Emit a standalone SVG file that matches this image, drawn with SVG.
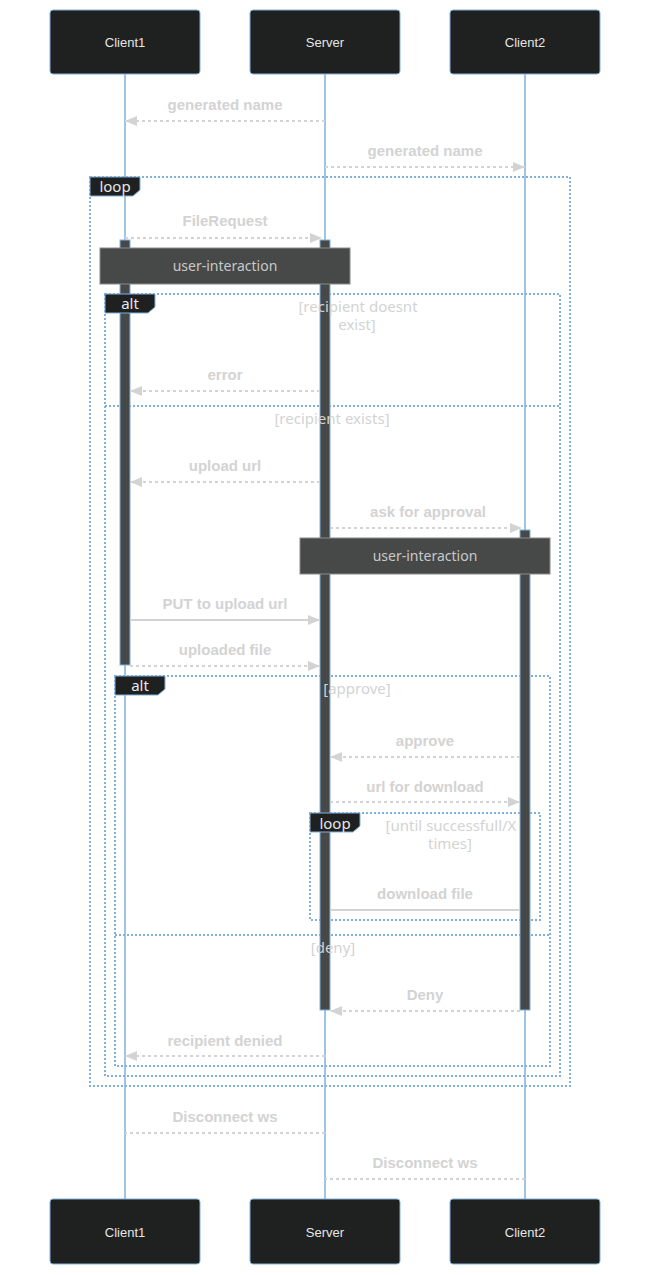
<svg xmlns="http://www.w3.org/2000/svg" width="650" height="1275" viewBox="0 0 650 1275">
<style>
.actor{fill:#1f2020;stroke:#81b1db;stroke-width:1}
.actorText{font-family:"Liberation Sans",Arial,sans-serif;font-size:13px;fill:#e6e6e6;text-anchor:middle}
.life{stroke:#81b1db;stroke-width:1.5}
.frame{fill:none;stroke:#81b1db;stroke-width:2;stroke-dasharray:2,2}
.lblBox{fill:#1f2020;stroke:#81b1db;stroke-width:1}
.lblText{font-family:"Noto Sans",sans-serif;font-size:15px;fill:#e8e8e8;text-anchor:middle}
.cond{font-family:"Noto Sans",sans-serif;font-size:15px;fill:#d3d3d3;text-anchor:middle}
.act{fill:#474949;stroke:#81b1db;stroke-width:1}
.note{fill:#474949;stroke:#8a8a8a;stroke-width:1}
.noteText{font-family:"Noto Sans",sans-serif;font-size:14px;fill:#c8c8c8;text-anchor:middle}
.msg{font-family:"Liberation Sans",Arial,sans-serif;font-size:15px;font-weight:bold;fill:#d3d3d3;text-anchor:middle}
.dash{stroke:#d3d3d3;stroke-width:2;stroke-dasharray:3,3;fill:none}
.solid{stroke:#d3d3d3;stroke-width:2;fill:none}
</style>
<defs>
<marker id="arrow" viewBox="0 0 12 10" refX="12" refY="5" markerWidth="12" markerHeight="10" markerUnits="userSpaceOnUse" orient="auto">
<path d="M0,0 L12,5 L0,10 z" fill="#d3d3d3"/>
</marker>
</defs>

<g id="lifelines">
<line class="life" x1="125" y1="74" x2="125" y2="1199"/>
<line class="life" x1="325" y1="74" x2="325" y2="1199"/>
<line class="life" x1="525" y1="74" x2="525" y2="1199"/>
</g>

<g id="actor-top-client1"><rect class="actor" x="50" y="10" width="150" height="64" rx="3"/><text class="actorText" x="125" y="47">Client1</text></g>
<g id="actor-top-server"><rect class="actor" x="250" y="10" width="150" height="64" rx="3"/><text class="actorText" x="325" y="47">Server</text></g>
<g id="actor-top-client2"><rect class="actor" x="450" y="10" width="150" height="64" rx="3"/><text class="actorText" x="525" y="47">Client2</text></g>

<g id="loop-outer">
<rect class="frame" x="90" y="177" width="480" height="909"/>
</g>
<g id="alt-outer">
<rect class="frame" x="105" y="294" width="455" height="782"/>
<line class="frame" x1="105" y1="406" x2="560" y2="406"/>
</g>
<g id="alt-inner">
<rect class="frame" x="115" y="676" width="435" height="390"/>
<line class="frame" x1="115" y1="935" x2="550" y2="935"/>
</g>
<g id="loop-inner">
<rect class="frame" x="310" y="813" width="230" height="107"/>
</g>

<g id="activations">
<rect class="act" x="120" y="240" width="10" height="425"/>
<rect class="act" x="320" y="240" width="10" height="770"/>
<rect class="act" x="520" y="530" width="10" height="480"/>
</g>

<g id="loop-outer-label">
<polygon class="lblBox" points="90,177 140,177 140,190 133,196 90,196"/>
<text class="lblText" x="115" y="192">loop</text>
</g>
<g id="alt-outer-label">
<polygon class="lblBox" points="105,294 155,294 155,307 148,313 105,313"/>
<text class="lblText" x="130" y="309">alt</text>
</g>
<g id="alt-inner-label">
<polygon class="lblBox" points="115,676 165,676 165,689 158,695 115,695"/>
<text class="lblText" x="140" y="691">alt</text>
</g>
<g id="loop-inner-label">
<polygon class="lblBox" points="310,813 360,813 360,826 353,832 310,832"/>
<text class="lblText" x="335" y="829">loop</text>
</g>

<g id="conditions">
<text class="cond" x="358" y="312">[recipient doesnt</text>
<text class="cond" x="357" y="330">exist]</text>
<text class="cond" x="332" y="424">[recipient exists]</text>
<text class="cond" x="357" y="694">[approve]</text>
<text class="cond" x="451" y="831">[until successfull/X</text>
<text class="cond" x="450" y="849">times]</text>
<text class="cond" x="333" y="953">[deny]</text>
</g>

<g id="note-1"><rect class="note" x="100" y="248" width="250" height="36"/><text class="noteText" x="225" y="271">user-interaction</text></g>
<g id="note-2"><rect class="note" x="300" y="538" width="250" height="36"/><text class="noteText" x="425" y="561">user-interaction</text></g>

<g id="connectors">
<text class="msg" x="225" y="110">generated name</text>
<line class="dash" x1="325" y1="121" x2="125" y2="121" marker-end="url(#arrow)"/>
<text class="msg" x="425" y="156">generated name</text>
<line class="dash" x1="325" y1="167" x2="525" y2="167" marker-end="url(#arrow)"/>
<text class="msg" x="225" y="226">FileRequest</text>
<line class="dash" x1="125" y1="238" x2="322" y2="238" marker-end="url(#arrow)"/>
<text class="msg" x="225" y="380">error</text>
<line class="dash" x1="320" y1="391" x2="130" y2="391" marker-end="url(#arrow)"/>
<text class="msg" x="225" y="471">upload url</text>
<line class="dash" x1="320" y1="482" x2="130" y2="482" marker-end="url(#arrow)"/>
<text class="msg" x="428" y="517">ask for approval</text>
<line class="dash" x1="330" y1="528" x2="522" y2="528" marker-end="url(#arrow)"/>
<text class="msg" x="225" y="609">PUT to upload url</text>
<line class="solid" x1="130" y1="620" x2="320" y2="620" marker-end="url(#arrow)"/>
<text class="msg" x="225" y="655">uploaded file</text>
<line class="dash" x1="130" y1="666" x2="320" y2="666" marker-end="url(#arrow)"/>
<text class="msg" x="425" y="746">approve</text>
<line class="dash" x1="520" y1="757" x2="330" y2="757" marker-end="url(#arrow)"/>
<text class="msg" x="425" y="792">url for download</text>
<line class="dash" x1="330" y1="802" x2="520" y2="802" marker-end="url(#arrow)"/>
<text class="msg" x="425" y="899">download file</text>
<line class="solid" x1="330" y1="910" x2="520" y2="910"/>
<text class="msg" x="425" y="1000">Deny</text>
<line class="dash" x1="520" y1="1011" x2="330" y2="1011" marker-end="url(#arrow)"/>
<text class="msg" x="225" y="1046">recipient denied</text>
<line class="dash" x1="325" y1="1056" x2="125" y2="1056" marker-end="url(#arrow)"/>
<text class="msg" x="225" y="1122">Disconnect ws</text>
<line class="dash" x1="325" y1="1133" x2="125" y2="1133"/>
<text class="msg" x="425" y="1168">Disconnect ws</text>
<line class="dash" x1="525" y1="1179" x2="325" y2="1179"/>
</g>

<g id="actor-bottom-client1"><rect class="actor" x="50" y="1199" width="150" height="65" rx="3"/><text class="actorText" x="125" y="1237">Client1</text></g>
<g id="actor-bottom-server"><rect class="actor" x="250" y="1199" width="150" height="65" rx="3"/><text class="actorText" x="325" y="1237">Server</text></g>
<g id="actor-bottom-client2"><rect class="actor" x="450" y="1199" width="150" height="65" rx="3"/><text class="actorText" x="525" y="1237">Client2</text></g>
</svg>
